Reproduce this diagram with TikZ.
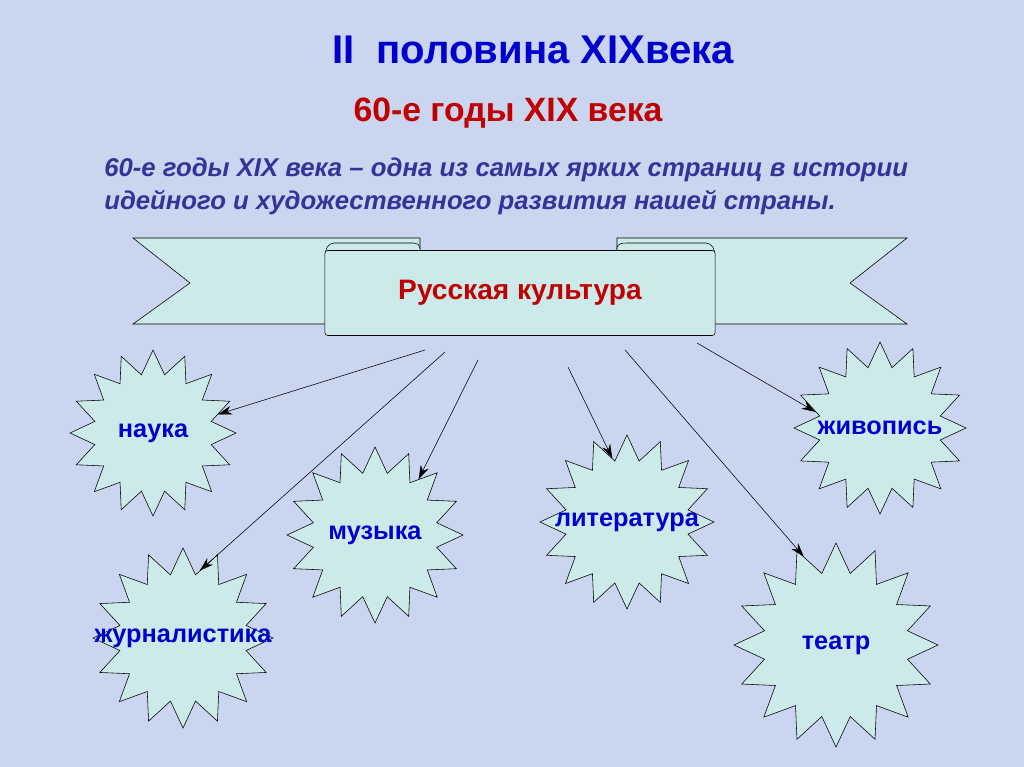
\documentclass[tikz,border=0pt]{standalone}
\usepackage{fontspec}
\setmainfont{Liberation Sans}
\usetikzlibrary{shapes.geometric,arrows.meta}
\definecolor{bgblue}{RGB}{202,214,240}
\definecolor{capblue}{RGB}{0,0,204}
\definecolor{capred}{RGB}{192,0,0}
\definecolor{introblue}{RGB}{51,51,153}
\definecolor{paleteal}{RGB}{204,234,234}
\newcommand{\nowidth}[1]{\makebox[0pt]{#1}}

\begin{document}
\begin{tikzpicture}[x=0.025cm, y=-0.025cm, every node/.style={font=\bfseries},
  burst/.style={star, star points=16, star point ratio=1.4, draw, fill=paleteal, inner sep=0pt, text=capblue, font=\bfseries\fontsize{18}{20}\selectfont},
  link/.style={-{Stealth[length=3.5mm, width=2.2mm]}, thin}]
  % Background
  \fill[bgblue] (0,0) rectangle (1024,767);

  % Headings
  \node[text=capblue, font=\bfseries\fontsize{28.5}{32}\selectfont] (title) at (533,50) {II\ \ половина XIXвека};
  \node[text=capred, font=\bfseries\fontsize{24}{28}\selectfont] (subtitle) at (508,113) {60-е годы XIX века};
  \node[text=introblue, font=\bfseries\itshape\fontsize{18.3}{23}\selectfont, align=left, anchor=north west, inner sep=0pt] (intro) at (104,158) {60-е годы XIX века -- одна из самых ярких страниц в истории\\идейного и художественного развития нашей страны.};

  % Ribbon: tails, folds, then the middle part
  \filldraw[fill=paleteal] (133,238) -- (420,238) -- (420,324) -- (133,324) -- (190,283) -- cycle;
  \filldraw[fill=paleteal] (907,238) -- (617,238) -- (617,324) -- (907,324) -- (850,283) -- cycle;
  \filldraw[fill=paleteal] (325,256) to[out=90,in=180] (334,243) -- (414,243) to[out=0,in=90] (420,248) -- (420,256) -- cycle;
  \filldraw[fill=paleteal] (715,256) to[out=90,in=0] (706,243) -- (626,243) to[out=180,in=90] (617,248) -- (617,256) -- cycle;
  \node[draw, fill=paleteal, rounded corners=2pt, minimum width=9.75cm, minimum height=2.125cm, text=capred, font=\bfseries\fontsize{20}{24}\selectfont] (culture) at (520,293) {Русская культура};

  % Branches
  \node[burst, minimum size=4.15cm] (nauka) at (153,433) {\nowidth{наука}};
  \node[burst, minimum size=4.5cm] (zhurn) at (183,638) {\nowidth{журналистика}};
  \node[burst, minimum size=4.4cm] (muz) at (375,535) {\nowidth{музыка}};
  \node[burst, minimum size=4.35cm] (lit) at (627,522) {\nowidth{литература}};
  \node[burst, minimum size=4.3cm] (zhiv) at (880,428) {\nowidth{живопись}};
  \node[burst, minimum size=5.1cm] (teatr) at (836,645) {\nowidth{театр}};

  % Arrows
  \coordinate (s1) at (425,350);
  \coordinate (s2) at (445,352);
  \coordinate (s3) at (478,360);
  \coordinate (s4) at (568,367);
  \coordinate (s5) at (625,350);
  \coordinate (s6) at (697,343);
  \draw[link] (s1) -- (nauka.16);
  \draw[link] (s2) -- (zhurn.76);
  \draw[link] (s3) -- (muz.52);
  \draw[link] (s4) -- (lit.103);
  \draw[link] (s5) -- (teatr.110);
  \draw[link] (s6) -- (zhiv.166);
\end{tikzpicture}
\end{document}
